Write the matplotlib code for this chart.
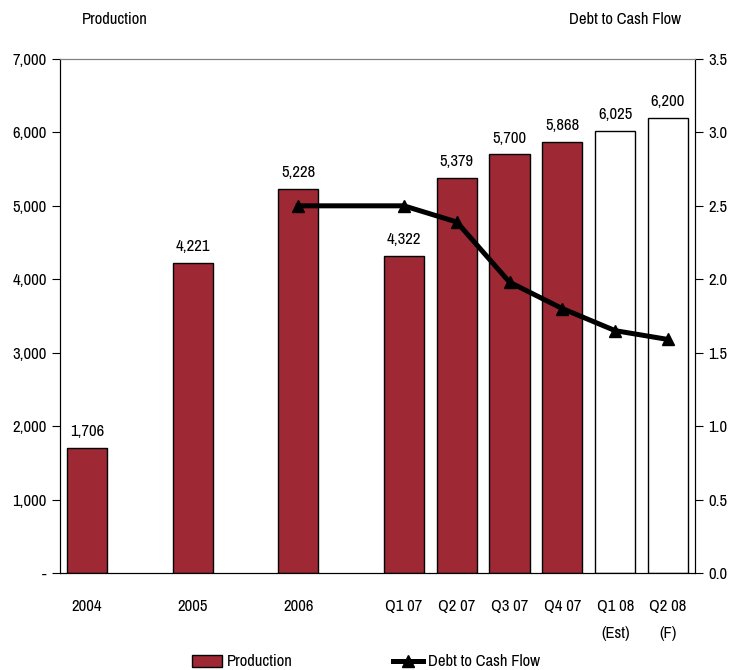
import matplotlib
matplotlib.use("Agg")
import matplotlib.pyplot as plt
from matplotlib import font_manager
from matplotlib.patches import Patch
from matplotlib.lines import Line2D
from matplotlib.ticker import FuncFormatter

# Data
categories = ["2004", "2005", "2006", "Q1 07", "Q2 07", "Q3 07", "Q4 07",
              "Q1 08\n(Est)", "Q2 08\n(F)"]
cat_pos = [0, 2, 4, 6, 7, 8, 9, 10, 11]
production = [1706, 4221, 5228, 4322, 5379, 5700, 5868, 6025, 6200]
forecast = [False, False, False, False, False, False, False, True, True]

debt_pos = [4, 6, 7, 8, 9, 10, 11]
debt_cf = [2.5, 2.5, 2.39, 1.98, 1.80, 1.65, 1.59]

bar_color = "#9E2833"

# the original uses a narrow Arial; pick a condensed face if one is installed
names = sorted({f.name for f in font_manager.fontManager.ttflist})
narrow = [n for n in names if "Narrow" in n]
narrow += [n for n in names if "Condensed" in n
           and not any(w in n for w in ("Extra", "Semi", "Ultra"))]
plt.rcParams["font.family"] = narrow[:1] + ["Liberation Sans", "DejaVu Sans"]
fs = 12 if narrow else 11

fig = plt.figure(figsize=(7.38, 6.70), dpi=100)
ax = fig.add_axes([0.0813, 0.1448, 0.8604, 0.7672])

colors = ["white" if f else bar_color for f in forecast]
ax.bar(cat_pos, production, width=0.76, color=colors, edgecolor="black",
       linewidth=1.0, zorder=2)
for x, v in zip(cat_pos, production):
    ax.text(x, v + 120, f"{v:,}", ha="center", va="bottom", fontsize=fs)

ax.set_xlim(-0.51, 11.51)
ax.set_ylim(0, 7000)
ax.set_yticks(range(0, 7001, 1000))
ax.yaxis.set_major_formatter(FuncFormatter(lambda v, p: "-" if v == 0 else f"{int(v):,}"))
ax.set_xticks(cat_pos)
ax.set_xticklabels(categories, fontsize=fs, linespacing=2.0, va="top")
ax.tick_params(axis="x", length=0, pad=19)
ax.tick_params(axis="y", labelsize=fs, length=6, direction="out")
ax.spines["top"].set_color("#808080")
for s in ("left", "bottom", "right"):
    ax.spines[s].set_color("black")

ax2 = ax.twinx()
ax2.set_ylim(0, 3.5)
ax2.set_yticks([i * 0.5 for i in range(8)])
ax2.yaxis.set_major_formatter(FuncFormatter(lambda v, p: f"{v:.1f}"))
ax2.tick_params(axis="y", labelsize=fs, length=6, direction="out")
ax2.spines["top"].set_color("#808080")
ax2.plot(debt_pos, debt_cf, color="black", linewidth=3.6, marker="^",
         markersize=8, zorder=3)

fig.text(115 / 738, 1 - 20 / 670, "Production", ha="center", va="center", fontsize=fs)
fig.text(625 / 738, 1 - 20 / 670, "Debt to Cash Flow", ha="center", va="center", fontsize=fs)

handles = [Patch(facecolor=bar_color, edgecolor="black", linewidth=1.0),
           Line2D([], [], color="black", linewidth=3.6, marker="^", markersize=8)]
fig.legend(handles, ["Production", "Debt to Cash Flow"], loc="center",
           bbox_to_anchor=(366 / 738, 1 - 662 / 670), ncol=2, frameon=False,
           fontsize=fs, columnspacing=6.0, handlelength=1.8, handletextpad=0.3)

fig.savefig("out.png", dpi=100)
